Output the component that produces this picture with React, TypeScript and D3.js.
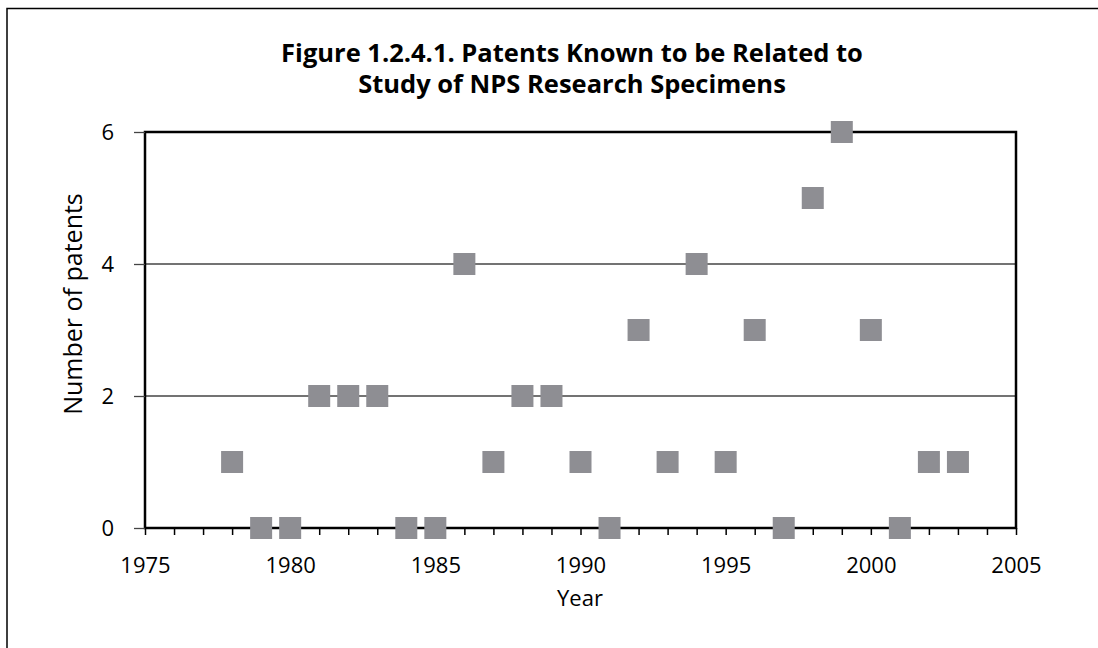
import React, { useRef, useEffect } from "react";
import * as d3 from "d3";

// data
const years = [1978, 1979, 1980, 1981, 1982, 1983, 1984, 1985, 1986, 1987, 1988, 1989, 1990,
  1991, 1992, 1993, 1994, 1995, 1996, 1997, 1998, 1999, 2000, 2001, 2002, 2003];
const patents = [1, 0, 0, 2, 2, 2, 0, 0, 4, 1, 2, 2, 1, 0, 3, 1, 4, 1, 3, 0, 5, 6, 3, 0, 1, 1];
const xTickLabels = [1975, 1980, 1985, 1990, 1995, 2000, 2005];
const yTickLabels = [0, 2, 4, 6];
const titleLines = ["Figure 1.2.4.1. Patents Known to be Related to", "Study of NPS Research Specimens"];

const W = 1098;
const H = 648;
const FONT = "'Open Sans', 'DejaVu Sans', sans-serif";

function PatentChart() {
  const svgRef = useRef<SVGSVGElement>(null);

  useEffect(() => {
    const svg = d3.select(svgRef.current);
    svg.selectAll("*").remove();

    const left = 145, right = 1016, top = 132, bottom = 528;

    //scales
    const x = d3.scaleLinear().domain([1975, 2005]).range([left, right]);
    const y = d3.scaleLinear().domain([0, 6]).range([bottom, top]);

    // outer frame (only top/left visible)
    svg.append("path")
      .attr("d", `M7,${H + 5}V8.5H${W + 5}`)
      .attr("fill", "none")
      .attr("stroke", "#000")
      .attr("stroke-width", 1.5);

    //title
    svg.selectAll(".title")
      .data(titleLines)
      .join("text")
      .attr("class", "title")
      .attr("x", 572)
      .attr("y", (d, i) => 62 + i * 31)
      .attr("text-anchor", "middle")
      .attr("font-family", FONT)
      .attr("font-weight", "bold")
      .attr("font-size", 25.5)
      .text((d) => d);

    //gridlines
    svg.selectAll(".grid")
      .data([2, 4])
      .join("line")
      .attr("class", "grid")
      .attr("x1", left).attr("x2", right)
      .attr("y1", (d) => y(d)).attr("y2", (d) => y(d))
      .attr("stroke", "#444")
      .attr("stroke-width", 1.3);

    // frame of plot area
    svg.append("rect")
      .attr("x", left).attr("y", top)
      .attr("width", right - left).attr("height", bottom - top)
      .attr("fill", "none")
      .attr("stroke", "#000")
      .attr("stroke-width", 2.5);

    //x axis
    const xAxis = d3.axisBottom(x)
      .tickValues(d3.range(1975, 2006))
      .tickSize(7)
      .tickFormat((d) => (xTickLabels.includes(+d) ? String(d) : ""));
    const gx = svg.append("g").attr("transform", `translate(0,${bottom})`).call(xAxis);
    gx.select(".domain").remove();
    gx.selectAll("line").attr("stroke", "#000").attr("stroke-width", 1.5);
    gx.selectAll("text")
      .attr("font-family", FONT)
      .attr("font-size", 22)
      .attr("fill", "#000")
      .attr("dy", "0.71em")
      .attr("y", 29);

    //y axis
    const yAxis = d3.axisLeft(y)
      .tickValues(yTickLabels)
      .tickSize(11)
      .tickPadding(20)
      .tickFormat(d3.format("d"));
    const gy = svg.append("g").attr("transform", `translate(${left},0)`).call(yAxis);
    gy.select(".domain").remove();
    gy.selectAll("line").attr("stroke", "#444").attr("stroke-width", 1.3);
    gy.selectAll("text")
      .attr("font-family", FONT)
      .attr("font-size", 22)
      .attr("fill", "#000");

    //axis titles
    svg.append("text")
      .attr("x", 580)
      .attr("y", 606)
      .attr("text-anchor", "middle")
      .attr("font-family", FONT)
      .attr("font-size", 22)
      .text("Year");

    svg.append("text")
      .attr("transform", "translate(82,304) rotate(-90)")
      .attr("text-anchor", "middle")
      .attr("font-family", FONT)
      .attr("font-size", 25)
      .text("Number of patents");

    //squares
    const size = 22;
    svg.selectAll(".pt")
      .data(years.map((yr, i) => ({ yr, v: patents[i] })))
      .join("rect")
      .attr("class", "pt")
      .attr("x", (d) => x(d.yr) - size / 2)
      .attr("y", (d) => y(d.v) - size / 2)
      .attr("width", size)
      .attr("height", size)
      .attr("fill", "#8e8e93");
  }, []);

  return <svg ref={svgRef} width={W} height={H} style={{ position: "absolute", left: 0, top: 0, background: "#fff" }} />;
}

export default function App() {
  return <PatentChart />;
}
